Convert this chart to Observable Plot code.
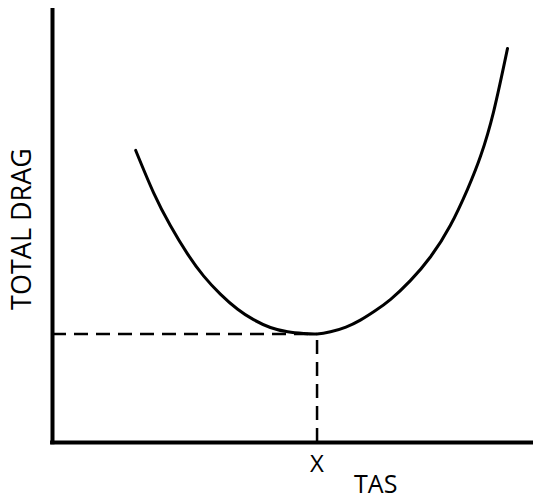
<!DOCTYPE html>
<html>
<head>
<meta charset="utf-8">
<script src="https://cdn.jsdelivr.net/npm/d3@7"></script>
<script src="https://cdn.jsdelivr.net/npm/@observablehq/plot@0.6"></script>
<style>
  html, body { margin: 0; padding: 0; background: #fff; }
  #chart { width: 533px; height: 504px; }
</style>
</head>
<body>
<div id="chart"></div>
<script>
// Curve (abstract units: TAS 0–100, drag 0–100)
const tas  = [17.3, 21.0, 24.5, 28.1, 31.4, 34.9, 38.5, 41.8, 45.3, 48.9, 52.2, 55.0, 57.8, 61.0, 64.0, 67.0, 70.3, 74.4, 78.6, 82.7, 86.3, 89.0, 91.7, 94.6];
const drag = [67.3, 57.6, 50.0, 43.4, 38.4, 34.2, 30.7, 28.3, 26.5, 25.5, 25.1, 25.0, 25.5, 26.6, 28.2, 30.3, 33.0, 37.3, 42.8, 50.0, 58.4, 66.0, 76.2, 90.8];
const minTas = [55];
const minDrag = [25];
const xTickLabels = ["X"];
const xLabel = "TAS";
const yLabel = "TOTAL DRAG";

const curve = tas.map((t, i) => ({tas: t, drag: drag[i]}));

const chart = Plot.plot({
  width: 533,
  height: 504,
  marginLeft: 52,
  marginRight: 0,
  marginTop: 8,
  marginBottom: 62,
  x: {domain: [0, 100], axis: null},
  y: {domain: [0, 100], axis: null},
  style: {fontFamily: "'Open Sans', sans-serif", background: "#fff", color: "#000"},
  marks: [
    // dashed guides to the minimum
    Plot.ruleY(minDrag, {x1: 0, x2: minTas[0], stroke: "#000", strokeWidth: 2.5, strokeDasharray: "14,8"}),
    Plot.ruleX(minTas, {y1: 0, y2: minDrag[0], stroke: "#000", strokeWidth: 2.5, strokeDasharray: "14,8"}),
    // axes lines
    Plot.ruleX([0], {y1: -0.5, y2: 100, stroke: "#000", strokeWidth: 4}),
    Plot.ruleY([0], {x1: -0.4, x2: 100, stroke: "#000", strokeWidth: 4}),
    // drag curve
    Plot.line(curve, {x: "tas", y: "drag", curve: "natural", stroke: "#000", strokeWidth: 3}),
    // tick label at minimum
    Plot.text(xTickLabels, {x: minTas, y: [0], text: d => d, dy: 22, fontSize: 24, fill: "#000"}),
    // axis titles
    Plot.text([xLabel], {x: [67.2], y: [0], text: d => d, dy: 42, fontSize: 25, fill: "#000"}),
    Plot.text([yLabel], {x: [0], y: [49.2], text: d => d, dx: -30, rotate: -90, fontSize: 27, fill: "#000"})
  ]
});
document.getElementById("chart").appendChild(chart);
</script>
</body>
</html>
